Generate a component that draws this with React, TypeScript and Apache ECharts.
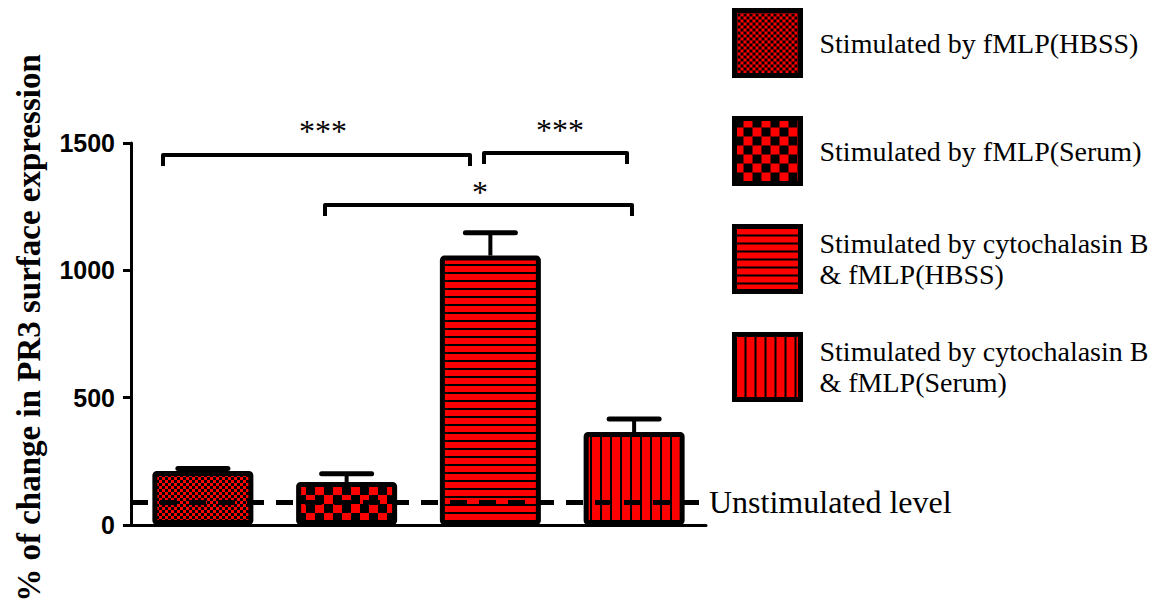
import React, { useEffect, useRef } from 'react';
import * as echarts from 'echarts';

const categories = ['fMLP (HBSS)', 'fMLP (Serum)', 'cytochalasin B & fMLP (HBSS)', 'cytochalasin B & fMLP (Serum)'];
const seriesNames = [
  'Stimulated by fMLP(HBSS)',
  'Stimulated by fMLP(Serum)',
  'Stimulated by cytochalasin B\n& fMLP(HBSS)',
  'Stimulated by cytochalasin B\n& fMLP(Serum)',
];
const means = [212, 169, 1058, 365];
const errors = [10, 32, 90, 51];
const unstimulatedLevel = 90;
const yMin = 0;
const yMax = 1500;
const yInterval = 500;
const yTitle = '% of change in PR3 surface expression';
const markLabel = 'Unstimulated level';
const sigLabels = ['***', '***', '*'];

function makePattern(kind: string) {
  const c = document.createElement('canvas');
  let w = 6, h = 6;
  if (kind === 'fine') { w = 6; h = 6; }
  if (kind === 'coarse') { w = 18; h = 18; }
  if (kind === 'hstripe') { w = 8; h = 8; }
  if (kind === 'vstripe') { w = 10; h = 10; }
  c.width = w; c.height = h;
  const ctx = c.getContext('2d')!;
  ctx.fillStyle = '#ff0000';
  ctx.fillRect(0, 0, w, h);
  ctx.fillStyle = '#000000';
  if (kind === 'fine' || kind === 'coarse') {
    const s = w / 2;
    ctx.fillRect(0, 0, s, s);
    ctx.fillRect(s, s, s, s);
  } else if (kind === 'hstripe') {
    ctx.fillRect(0, 0, w, 2);
  } else {
    ctx.fillRect(0, 0, 2, h);
  }
  return { image: c, repeat: 'repeat', imageWidth: w, imageHeight: h } as any;
}

export default function App() {
  const ref = useRef<HTMLDivElement>(null);
  useEffect(() => {
    if (!ref.current) return;
    const chart = echarts.init(ref.current, undefined, { renderer: 'svg' });
    const patterns = [makePattern('fine'), makePattern('coarse'), makePattern('hstripe'), makePattern('vstripe')];
    const serif = 'Liberation Serif, Times New Roman, serif';
    const barSeries: any[] = means.map((m, i) => ({
      type: 'bar',
      name: seriesNames[i],
      stack: 'one',
      data: categories.map((_, j) => (j === i ? m : '-')),
      barWidth: 101,
      itemStyle: { color: patterns[i], borderColor: '#000', borderWidth: 5, borderRadius: 2 },
      emphasis: { disabled: true },
    }));
    barSeries[3].markLine = {
      silent: true,
      symbol: 'none',
      data: [{ yAxis: unstimulatedLevel }],
      lineStyle: { color: '#000', width: 5, type: [17, 12] },
      label: {
        position: 'end',
        formatter: markLabel,
        color: '#000',
        fontFamily: serif,
        fontSize: 32,
        distance: 3,
      },
    };
    const errSeries = {
      type: 'custom',
      data: means.map((m, i) => [i, m, errors[i]]),
      encode: { x: 0, y: 1 },
      z: 3,
      renderItem: (_p: any, api: any) => {
        const x = api.value(0);
        const m = api.value(1);
        const e = api.value(2);
        const base = api.coord([x, m]);
        const top = api.coord([x, m + e]);
        const half = 25;
        return {
          type: 'group',
          children: [
            { type: 'line', shape: { x1: base[0], y1: base[1], x2: top[0], y2: top[1] }, style: { stroke: '#000', lineWidth: 4 } },
            { type: 'line', shape: { x1: top[0] - half, y1: top[1], x2: top[0] + half, y2: top[1] }, style: { stroke: '#000', lineWidth: 5, lineCap: 'round' } },
          ],
        };
      },
    };
    const bracketStyle = { stroke: '#000', lineWidth: 4, fill: null, lineJoin: 'round' };
    const starStyle = { fill: '#000', font: '32px ' + serif, textAlign: 'center', textVerticalAlign: 'middle' };
    chart.setOption({
      animation: false,
      grid: { left: 131, right: 455, top: 143, bottom: 82, containLabel: false },
      legend: {
        data: seriesNames,
        orient: 'vertical',
        left: 732,
        top: 8,
        padding: 0,
        itemWidth: 66,
        itemHeight: 65,
        itemGap: 38,
        icon: 'rect',
        selectedMode: false,
        itemStyle: { borderColor: '#000', borderWidth: 5 },
        textStyle: { color: '#000', fontFamily: serif, fontSize: 28, lineHeight: 31, padding: [0, 0, 0, 14] },
      },
      xAxis: {
        type: 'category',
        data: categories,
        axisLine: { lineStyle: { color: '#000', width: 3 } },
        axisTick: { alignWithLabel: true, length: 8, lineStyle: { color: '#000', width: 3 } },
        axisLabel: { show: false },
        splitLine: { show: false },
      },
      yAxis: {
        type: 'value',
        min: yMin,
        max: yMax,
        interval: yInterval,
        name: yTitle,
        nameLocation: 'middle',
        nameGap: 86,
        nameTextStyle: { color: '#000', fontFamily: serif, fontWeight: 'bold', fontSize: 33, padding: [0, 0, 0, 12] },
        axisLine: { show: true, lineStyle: { color: '#000', width: 3 } },
        axisTick: { show: true, length: 8, lineStyle: { color: '#000', width: 3 } },
        axisLabel: {
          color: '#000',
          fontFamily: 'Liberation Sans, Arial, sans-serif',
          fontWeight: 'bold',
          fontSize: 25,
          margin: 16,
          formatter: (v: number) => String(v),
        },
        splitLine: { show: false },
      },
      graphic: [
        { type: 'polyline', shape: { points: [[163, 166], [163, 155], [470, 155], [470, 166]] }, style: bracketStyle },
        { type: 'polyline', shape: { points: [[484, 164], [484, 153], [627, 153], [627, 164]] }, style: bracketStyle },
        { type: 'polyline', shape: { points: [[325, 216], [325, 205], [632, 205], [632, 216]] }, style: bracketStyle },
        { type: 'text', x: 323, y: 131, style: { ...starStyle, text: sigLabels[0] } },
        { type: 'text', x: 560, y: 130, style: { ...starStyle, text: sigLabels[1] } },
        { type: 'text', x: 480, y: 192, style: { ...starStyle, text: sigLabels[2] } },
      ],
      series: [...barSeries, errSeries],
    });
    return () => chart.dispose();
  }, []);
  return <div ref={ref} style={{ position: 'absolute', left: 0, top: 0, width: 1161, height: 607 }} />;
}
